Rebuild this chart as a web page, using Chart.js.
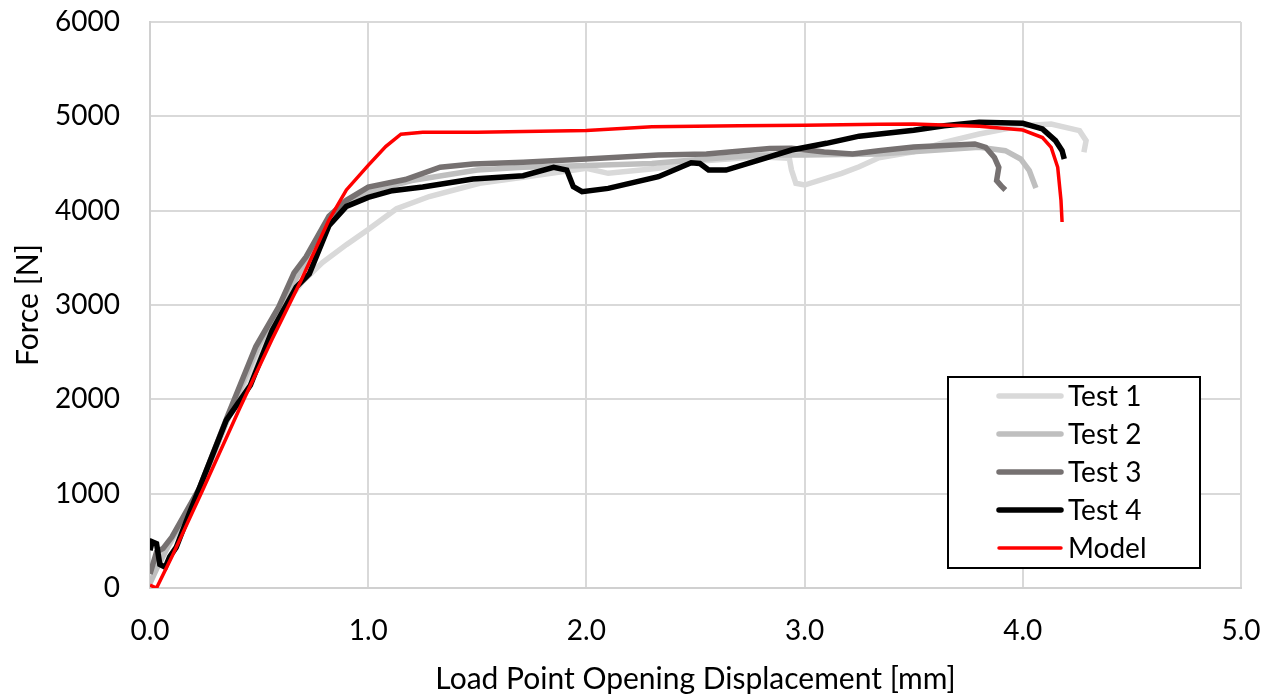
<!DOCTYPE html>
<html>
<head>
<meta charset="utf-8">
<script src="https://cdn.jsdelivr.net/npm/chart.js@4"></script>
<style>
    body { margin: 0; background: #ffffff; }
    #chartBox { width: 1276px; height: 700px; }
</style>
</head>
<body>
<div id="chartBox"><canvas id="forceChart"></canvas></div>
<script>
// series names and colours
const seriesNames = ["Test 1", "Test 2", "Test 3", "Test 4", "Model"];
const seriesColors = ["#d9d9d9", "#bfbfbf", "#767171", "#000000", "#ff0000"];

// x = load point opening displacement [mm], y = force [N]
const test1X = [0, 0.03, 0.10, 0.20, 0.35, 0.50, 0.60, 0.70, 0.79, 0.90, 1.00, 1.13, 1.28, 1.51, 1.71, 2.00, 2.10, 2.33, 2.48, 2.79, 2.93, 2.94, 2.96, 3.00, 3.17, 3.25, 3.34, 3.50, 3.64, 3.80, 4.00, 4.13, 4.26, 4.29, 4.28];
const test1Y = [100, 250, 500, 900, 1750, 2500, 2950, 3250, 3450, 3640, 3800, 4020, 4150, 4290, 4353, 4449, 4396, 4449, 4519, 4572, 4555, 4431, 4290, 4272, 4396, 4466, 4560, 4623, 4724, 4813, 4901, 4919, 4848, 4742, 4618];

const test2X = [0, 0.03, 0.10, 0.225, 0.36, 0.50, 0.60, 0.72, 0.82, 0.90, 1.00, 1.20, 1.50, 1.71, 2.00, 2.30, 2.50, 2.80, 3.00, 3.34, 3.80, 3.92, 3.99, 4.03, 4.06];
const test2Y = [50, 200, 520, 1030, 1820, 2580, 3000, 3480, 3880, 4060, 4200, 4320, 4430, 4460, 4480, 4500, 4540, 4590, 4590, 4600, 4671, 4636, 4548, 4424, 4240];

const test3X = [0, 0.03, 0.06, 0.10, 0.225, 0.36, 0.485, 0.59, 0.66, 0.715, 0.82, 0.90, 1.00, 1.17, 1.33, 1.48, 1.71, 2.00, 2.33, 2.55, 2.84, 2.94, 3.09, 3.22, 3.34, 3.50, 3.78, 3.83, 3.87, 3.89, 3.88, 3.90, 3.92];
const test3Y = [150, 380, 420, 540, 1050, 1850, 2560, 2980, 3340, 3510, 3940, 4110, 4250, 4330, 4460, 4495, 4512, 4548, 4590, 4600, 4658, 4661, 4623, 4600, 4636, 4676, 4707, 4671, 4565, 4459, 4318, 4265, 4219];

const test4X = [0, 0.01, 0.03, 0.045, 0.07, 0.09, 0.12, 0.18, 0.35, 0.46, 0.56, 0.67, 0.73, 0.82, 0.90, 1.00, 1.11, 1.25, 1.48, 1.71, 1.85, 1.91, 1.94, 1.98, 2.10, 2.33, 2.48, 2.52, 2.56, 2.64, 2.79, 2.94, 3.10, 3.25, 3.50, 3.64, 3.80, 4.00, 4.09, 4.15, 4.18, 4.19];
const test4Y = [400, 490, 470, 250, 220, 330, 430, 790, 1780, 2150, 2730, 3190, 3330, 3840, 4046, 4140, 4212, 4250, 4336, 4371, 4459, 4430, 4254, 4201, 4236, 4360, 4508, 4500, 4431, 4431, 4537, 4643, 4714, 4790, 4852, 4901, 4936, 4926, 4866, 4742, 4636, 4548];

const modelX = [0, 0.03, 0.10, 0.24, 0.41, 0.56, 0.69, 0.82, 0.90, 1.00, 1.08, 1.15, 1.25, 1.50, 2.00, 2.30, 2.70, 3.00, 3.34, 3.50, 3.80, 4.00, 4.09, 4.13, 4.16, 4.175, 4.18];
const modelY = [30, 0, 330, 1030, 1900, 2640, 3250, 3900, 4220, 4480, 4680, 4810, 4830, 4830, 4850, 4890, 4900, 4905, 4915, 4920, 4895, 4855, 4775, 4670, 4460, 4110, 3880];

const allX = [test1X, test2X, test3X, test4X, modelX];
const allY = [test1Y, test2Y, test3Y, test4Y, modelY];
const lineWidths = [5.5, 5.5, 5.5, 5.5, 3.5];

const fontName = "Lato";
const fontSize = 28;
const titleSize = 30;

function toPoints(xs, ys) {
    const points = [];
    for (let i = 0; i < xs.length; i++) {
        points.push({x: xs[i], y: ys[i]});
    }
    return points;
}

const datasets = [];
for (let i = 0; i < seriesNames.length; i++) {
    datasets.push({
        label: seriesNames[i],
        data: toPoints(allX[i], allY[i]),
        borderColor: seriesColors[i],
        backgroundColor: seriesColors[i],
        borderWidth: lineWidths[i],
        showLine: true,
        pointRadius: 0,
        tension: 0,
        order: seriesNames.length - i // later series drawn on top, like Excel
    });
}

// boxed legend sitting inside the plot area (bottom right)
const boxLegend = {
    id: "boxLegend",
    afterDraw(chart) {
        const ctx = chart.ctx;
        ctx.save();
        ctx.fillStyle = "#ffffff";
        ctx.fillRect(948, 377, 252, 191);
        ctx.strokeStyle = "#000000";
        ctx.lineWidth = 2;
        ctx.strokeRect(948, 377, 252, 191);
        ctx.font = fontSize + "px " + fontName;
        ctx.textBaseline = "middle";
        ctx.textAlign = "left";
        for (let i = 0; i < seriesNames.length; i++) {
            const y = 396 + i * 38;
            ctx.beginPath();
            ctx.strokeStyle = seriesColors[i];
            ctx.lineWidth = lineWidths[i];
            ctx.lineCap = "round";
            ctx.moveTo(999, y);
            ctx.lineTo(1061, y);
            ctx.stroke();
            ctx.fillStyle = "#000000";
            ctx.fillText(seriesNames[i], 1068, y + 1);
        }
        ctx.restore();
    }
};

new Chart(document.getElementById("forceChart"), {
    type: "scatter",
    data: {datasets: datasets},
    options: {
        responsive: true,
        maintainAspectRatio: false,
        animation: false,
        layout: {padding: {top: 22, right: 35, left: 0, bottom: 0}},
        plugins: {
            legend: {display: false},
            tooltip: {enabled: false}
        },
        scales: {
            x: {
                type: "linear",
                min: 0,
                max: 5,
                afterFit: scale => { scale.height = 112; },
                // invisible tick marks give the label gap without growing the layout padding
                grid: {color: "#d9d9d9", lineWidth: 2, drawTicks: true, tickLength: 24, tickColor: "rgba(0,0,0,0)"},
                border: {color: "#d0d0d0", width: 2},
                ticks: {
                    stepSize: 1,
                    padding: 2,
                    color: "#000000",
                    font: {family: fontName, size: fontSize},
                    callback: v => v.toFixed(1)
                },
                title: {
                    display: true,
                    text: "Load Point Opening Displacement [mm]",
                    color: "#000000",
                    font: {family: fontName, size: titleSize},
                    padding: {top: 0, bottom: 3}
                }
            },
            y: {
                min: 0,
                max: 6000,
                afterFit: scale => { scale.width = 150; },
                grid: {color: "#d9d9d9", lineWidth: 2, drawTicks: true, tickLength: 28, tickColor: "rgba(0,0,0,0)"},
                border: {color: "#d0d0d0", width: 2},
                ticks: {
                    stepSize: 1000,
                    padding: 2,
                    color: "#000000",
                    font: {family: fontName, size: fontSize},
                    callback: v => String(v)
                },
                title: {
                    display: true,
                    text: "Force [N]",
                    color: "#000000",
                    font: {family: fontName, size: titleSize},
                    padding: {top: 10, bottom: 0}
                }
            }
        }
    },
    plugins: [boxLegend]
});
</script>
</body>
</html>
